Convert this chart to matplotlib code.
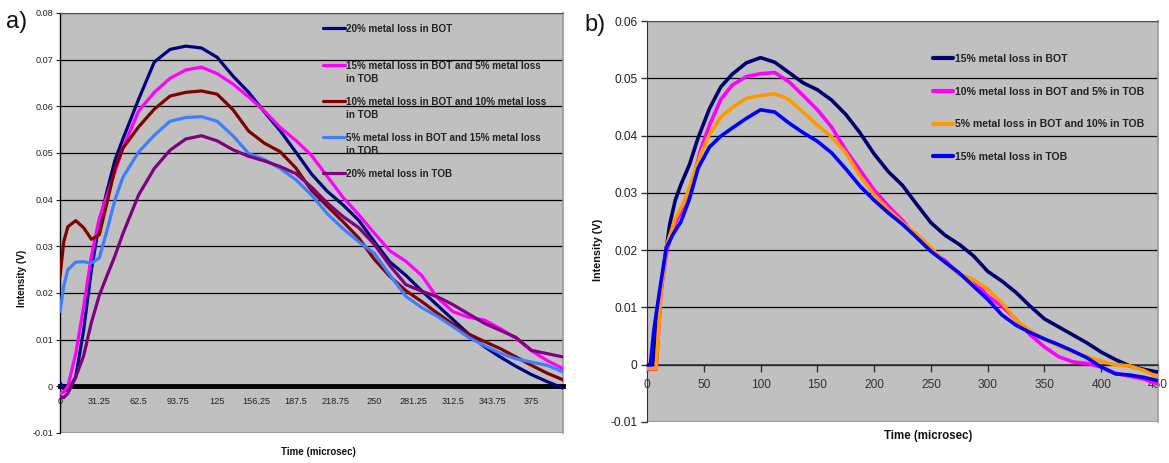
import numpy as np
import matplotlib
matplotlib.use("Agg")
import matplotlib.pyplot as plt
from matplotlib.ticker import FuncFormatter

plt.rcParams['font.family'] = ['Liberation Sans', 'DejaVu Sans']

# ---------------- Panel a) data ----------------
xa = [0, 3, 6.25, 12.5, 18.75, 25, 31.25, 37.5, 43.75, 50, 62.5, 75, 87.5, 100, 112.5, 125,
      137.5, 150, 162.5, 175, 187.5, 200, 212.5, 225, 237.5, 250, 262.5, 275, 287.5, 300,
      312.5, 325, 337.5, 350, 362.5, 375, 387.5, 400]
a_bot20 = [0.0008, -0.0005, -0.001, 0.002, 0.012, 0.025, 0.035, 0.042, 0.0485, 0.053, 0.0615,
           0.0695, 0.0722, 0.0729, 0.0725, 0.0705, 0.0665, 0.063, 0.0588, 0.0548, 0.0502, 0.0455,
           0.0418, 0.0389, 0.0356, 0.031, 0.0266, 0.0238, 0.0205, 0.0174, 0.0143, 0.0112, 0.0085,
           0.0063, 0.0043, 0.0025, 0.001, -0.0004]
a_bot15_tob5 = [-0.0015, -0.0012, 0.0, 0.007, 0.017, 0.028, 0.036, 0.041, 0.046, 0.051, 0.059,
                0.063, 0.066, 0.0678, 0.0684, 0.067, 0.0648, 0.062, 0.059, 0.0555, 0.0527, 0.0495,
                0.045, 0.0405, 0.0368, 0.0328, 0.029, 0.0268, 0.0238, 0.019, 0.016, 0.0148, 0.0142,
                0.0124, 0.0103, 0.0076, 0.0055, 0.0038]
a_bot10_tob10 = [0.0235, 0.031, 0.0342, 0.0355, 0.034, 0.0315, 0.0325, 0.0395, 0.0467, 0.051,
                 0.0556, 0.0594, 0.0622, 0.063, 0.0633, 0.0626, 0.0593, 0.0547, 0.0521, 0.0503,
                 0.0468, 0.042, 0.0386, 0.0353, 0.0318, 0.0272, 0.0235, 0.0205, 0.0182, 0.0157,
                 0.0133, 0.0112, 0.0096, 0.0081, 0.0063, 0.0045, 0.0028, 0.0014]
a_bot5_tob15 = [0.016, 0.0215, 0.025, 0.0266, 0.0267, 0.0264, 0.0275, 0.0335, 0.040, 0.0448,
                0.0502, 0.0538, 0.0568, 0.0576, 0.0578, 0.0568, 0.0537, 0.0499, 0.0486, 0.0467,
                0.0443, 0.041, 0.037, 0.0338, 0.031, 0.0285, 0.0238, 0.0193, 0.0169, 0.015,
                0.0128, 0.0105, 0.0087, 0.0071, 0.0059, 0.0052, 0.0045, 0.0031]
a_tob20 = [-0.0022, -0.0024, -0.0015, 0.002, 0.0065, 0.0137, 0.0195, 0.0238, 0.028, 0.0327,
           0.041, 0.0467, 0.0506, 0.053, 0.0537, 0.0526, 0.0507, 0.0493, 0.0483, 0.0471, 0.0456,
           0.0427, 0.0393, 0.0364, 0.034, 0.0304, 0.0258, 0.0218, 0.0204, 0.0192, 0.0175, 0.0155,
           0.0135, 0.012, 0.0105, 0.0077, 0.007, 0.0063]
a_labels = ["20% metal loss in BOT\n ",
            "15% metal loss in BOT and 5% metal loss\nin TOB",
            "10% metal loss in BOT and 10% metal loss\nin TOB",
            "5% metal loss in BOT and 15% metal loss\nin TOB",
            "20% metal loss in TOB"]
a_colors = ['#000080', '#FF00FF', '#800000', '#3F7FFF', '#800080']
a_xticks = [0, 31.25, 62.5, 93.75, 125, 156.25, 187.5, 218.75, 250, 281.25, 312.5, 343.75, 375]
a_xticklabels = ['0', '31.25', '62.5', '93.75', '125', '156.25', '187.5', '218.75', '250',
                 '281.25', '312.5', '343.75', '375']

# ---------------- Panel b) data ----------------
xb_bot15 = [0, 5, 10, 15, 20, 25, 30, 37.5, 45, 55, 65, 75, 87.5, 100, 112.5, 125, 137.5, 150,
            162.5, 175, 187.5, 200, 212.5, 225, 237.5, 250, 262.5, 275, 287.5, 300, 312.5, 325,
            337.5, 350, 362.5, 375, 387.5, 400, 412.5, 425, 437.5, 450]
b_bot15 = [0.0, 0.0, 0.009, 0.0175, 0.0245, 0.0288, 0.0315, 0.035, 0.0396, 0.0447, 0.0485,
           0.0507, 0.0527, 0.0536, 0.0528, 0.051, 0.0492, 0.048, 0.0462, 0.0437, 0.0405, 0.0368,
           0.0337, 0.0313, 0.028, 0.0248, 0.0226, 0.021, 0.019, 0.0163, 0.0146, 0.0126, 0.0102,
           0.008, 0.0066, 0.0052, 0.0038, 0.0022, 0.0009, -0.0002, -0.0008, -0.0013]
xb_mid = [0, 5, 8, 12.5, 17.5, 25, 32.5, 40, 47.5, 55, 65, 75, 87.5, 100, 112.5, 125, 137.5,
          150, 162.5, 175, 187.5, 200, 212.5, 225, 237.5, 250, 262.5, 275, 287.5, 300, 312.5,
          325, 337.5, 350, 362.5, 375, 387.5, 400, 412.5, 425, 437.5, 450]
b_bot10_tob5 = [-0.0008, -0.0008, -0.0008, 0.013, 0.020, 0.0248, 0.0275, 0.032, 0.0377, 0.0418,
                0.0463, 0.0488, 0.0503, 0.0508, 0.051, 0.0494, 0.047, 0.0445, 0.0415, 0.0375,
                0.034, 0.0305, 0.0277, 0.0252, 0.0222, 0.0198, 0.0182, 0.0158, 0.0147, 0.012,
                0.0102, 0.0079, 0.0052, 0.0031, 0.0014, 0.0005, 0.0002, -0.0004, -0.0015, -0.002,
                -0.0025, -0.0034]
b_bot5_tob10 = [-0.0007, -0.0007, -0.0007, 0.013, 0.021, 0.0255, 0.0283, 0.0325, 0.0369, 0.0402,
                0.0432, 0.0449, 0.0465, 0.047, 0.0473, 0.0463, 0.0441, 0.0418, 0.0398, 0.037,
                0.033, 0.0297, 0.0271, 0.0248, 0.0228, 0.0205, 0.0178, 0.0158, 0.0148, 0.0132,
                0.0108, 0.0078, 0.0059, 0.0044, 0.0033, 0.0022, 0.0014, 0.0006, 0.0, -0.0002,
                -0.001, -0.0022]
xb_tob15 = [0, 3, 6, 11, 17, 23, 30, 37.5, 45, 55, 65, 75, 87.5, 100, 112.5, 125, 137.5, 150,
            162.5, 175, 187.5, 200, 212.5, 225, 237.5, 250, 262.5, 275, 287.5, 300, 312.5, 325,
            337.5, 350, 362.5, 375, 387.5, 400, 412.5, 425, 437.5, 450]
b_tob15 = [0.0, 0.0, 0.006, 0.0128, 0.0204, 0.0228, 0.025, 0.029, 0.0343, 0.038, 0.0399, 0.0413,
           0.043, 0.0445, 0.0441, 0.0422, 0.0405, 0.039, 0.037, 0.0342, 0.0312, 0.0287, 0.0265,
           0.0245, 0.0222, 0.0198, 0.0179, 0.016, 0.0137, 0.0114, 0.0087, 0.0069, 0.0056, 0.0045,
           0.0035, 0.0024, 0.0012, -0.0004, -0.0016, -0.0018, -0.0022, -0.0028]
b_labels = ["15% metal loss in BOT", "10% metal loss in BOT and 5% in TOB",
            "5% metal loss in BOT and 10% in TOB", "15% metal loss in TOB"]
b_colors = ['#000070', '#FF00FF', '#FF9900', '#0000FF']

W, H = 1169, 463
fig = plt.figure(figsize=(W / 100, H / 100), dpi=100)
fig.patch.set_facecolor('white')


def yfmt(v, pos):
    return '0' if abs(v) < 1e-9 else '%.2f' % v


def fix_legend_align(leg, linespacing):
    for t in leg.get_texts():
        t.set_linespacing(linespacing)
    for col in leg._legend_handle_box.get_children():
        for hp in col.get_children():
            hp.align = 'top'


# ---------------- Panel a ----------------
ax1 = fig.add_axes([60 / W, 1 - 433 / H, 503 / W, 420 / H])
ax1.set_facecolor('#C0C0C0')
a_series = [a_bot20, a_bot15_tob5, a_bot10_tob10, a_bot5_tob15, a_tob20]
for ys, c, lab in zip(a_series, a_colors, a_labels):
    ax1.plot(xa, ys, color=c, lw=2.3, label=lab, solid_capstyle='round', zorder=3)
ax1.set_xlim(0, 400)
ax1.set_ylim(-0.01, 0.08)
ax1.set_yticks(np.round(np.arange(-0.01, 0.0801, 0.01), 2))
ax1.yaxis.set_major_formatter(FuncFormatter(yfmt))
ax1.set_xticks(a_xticks)
ax1.set_xticklabels(a_xticklabels)
ax1.tick_params(axis='x', length=0, pad=8, labelsize=6.6, colors='#222222')
ax1.tick_params(axis='y', length=3, width=0.8, pad=2, labelsize=6.6, colors='#222222')
ax1.yaxis.grid(True, color='black', lw=0.9)
ax1.set_axisbelow(True)
ax1.spines['bottom'].set_position(('data', 0))
ax1.spines['bottom'].set_linewidth(3.5)
ax1.spines['bottom'].set_zorder(2.5)
ax1.spines['left'].set_linewidth(1.0)
ax1.spines['top'].set_color('#555555')
ax1.spines['right'].set_color('#999999')
ax1.spines['right'].set_linewidth(1.2)
fig.canvas.draw()
gl = ax1.get_ygridlines()
gl[0].set_color('#999999')
gl[0].set_linewidth(1.5)

leg1 = ax1.legend(loc='upper left', bbox_to_anchor=(0.523, 0.973), frameon=False,
                  fontsize=7.1, handlelength=2.2, handleheight=1.1, handletextpad=0.15,
                  labelspacing=1.3, borderpad=0, borderaxespad=0)
fix_legend_align(leg1, 1.42)
for t in leg1.get_texts():
    t.set_fontweight('bold')
    t.set_color('#222222')

fig.text(22 / W, 1 - 278 / H, 'Intensity (V)', rotation=90, ha='center', va='center',
         fontsize=7.2, fontweight='bold', color='#111111')
fig.text(318 / W, 1 - 452 / H, 'Time (microsec)', ha='center', va='center',
         fontsize=7.0, fontweight='bold', color='#111111')
fig.text(17 / W, 1 - 22 / H, 'a)', ha='center', va='center', fontsize=17, color='#111111')

# ---------------- Panel b ----------------
ax2 = fig.add_axes([647 / W, 1 - 422 / H, 511 / W, 401 / H])
ax2.set_facecolor('#C0C0C0')
b_x = [xb_bot15, xb_mid, xb_mid, xb_tob15]
b_series = [b_bot15, b_bot10_tob5, b_bot5_tob10, b_tob15]
for xs, ys, c, lab in zip(b_x, b_series, b_colors, b_labels):
    ax2.plot(xs, ys, color=c, lw=2.6, label=lab, solid_capstyle='round', zorder=3)
ax2.set_xlim(0, 450)
ax2.set_ylim(-0.01, 0.06)
ax2.set_yticks(np.round(np.arange(-0.01, 0.0601, 0.01), 2))
ax2.yaxis.set_major_formatter(FuncFormatter(yfmt))
ax2.set_xticks(np.arange(0, 451, 50))
ax2.tick_params(axis='x', length=5, width=1, pad=5, labelsize=8.6, colors='#333333')
ax2.tick_params(axis='y', length=4, width=1, pad=3, labelsize=8.6, colors='#333333')
for lab in ax2.get_xticklabels() + ax2.get_yticklabels():
    lab.set_color('#222222')
ax2.yaxis.grid(True, color='black', lw=0.9)
ax2.set_axisbelow(True)
ax2.spines['bottom'].set_position(('data', 0))
ax2.spines['bottom'].set_linewidth(1.2)
ax2.spines['bottom'].set_color('#333333')
ax2.spines['left'].set_color('#333333')
ax2.spines['top'].set_color('#555555')
ax2.spines['right'].set_color('#999999')
ax2.spines['right'].set_linewidth(1.2)
fig.canvas.draw()
gl2 = ax2.get_ygridlines()
gl2[0].set_color('#999999')
gl2[0].set_linewidth(1.5)

leg2 = ax2.legend(loc='upper left', bbox_to_anchor=(0.5597, 0.918), frameon=False,
                  fontsize=7.6, handlelength=1.9, handleheight=0.7, handletextpad=0.15,
                  labelspacing=2.15, borderpad=0, borderaxespad=0)
for t in leg2.get_texts():
    t.set_fontweight('bold')
    t.set_color('#222222')
for h in leg2.legend_handles:
    h.set_linewidth(3)

fig.text(598 / W, 1 - 250 / H, 'Intensity (V)', rotation=90, ha='center', va='center',
         fontsize=7.8, fontweight='bold', color='#111111')
fig.text(928 / W, 1 - 436 / H, 'Time (microsec)', ha='center', va='center',
         fontsize=8.3, fontweight='bold', color='#111111')
fig.text(595 / W, 1 - 25 / H, 'b)', ha='center', va='center', fontsize=17, color='#111111')

fig.savefig('out.png', dpi=100, facecolor='white')
